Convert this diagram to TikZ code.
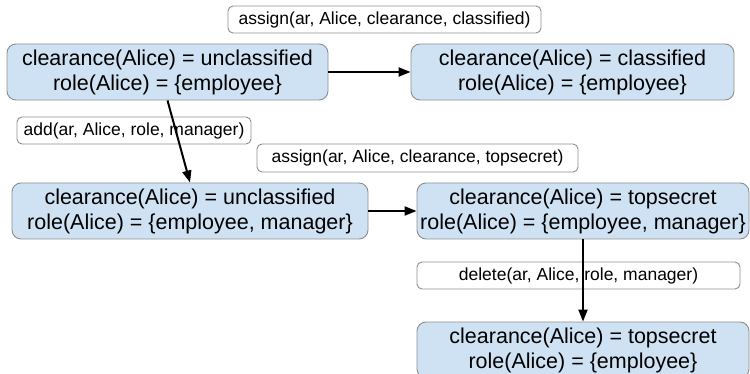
\documentclass[tikz,border=0pt]{standalone}
\usepackage{fontspec}
\setmainfont{Liberation Sans}
\usetikzlibrary{arrows.meta}
\definecolor{statefill}{HTML}{CFE2F3}
\definecolor{edgegray}{HTML}{8E8E8E}
\begin{document}
\begin{tikzpicture}[x=1pt,y=-1pt,
  statebox/.style={draw=edgegray, line width=0.9pt, fill=statefill, rounded corners=9pt,
    minimum height=56pt, inner sep=0pt, align=center,
    font=\fontsize{21.5}{25}\selectfont},
  opbox/.style={draw=edgegray, line width=0.9pt, fill=white, rounded corners=5pt,
    minimum height=27pt, inner sep=0pt, align=center,
    font=\fontsize{17.5}{20}\selectfont},
  trans/.style={line width=2pt, -{Triangle[length=12pt,width=9pt]}}]
\useasboundingbox (0,0) rectangle (750,374);
\clip (0,0) rectangle (750,374);
\fill[white] (0,0) rectangle (750,374);

% states
\node[statebox, minimum width=321pt] (A) at (167.5,72)
  {clearance(Alice) = unclassified\\role(Alice) = \{employee\}};
\node[statebox, minimum width=323pt] (B) at (572.5,72)
  {clearance(Alice) = classified\\role(Alice) = \{employee\}};
\node[statebox, minimum width=356pt] (C) at (190,211)
  {clearance(Alice) = unclassified\\role(Alice) = \{employee, manager\}};
\node[statebox, minimum width=332pt] (D) at (583,211)
  {clearance(Alice) = topsecret\\role(Alice) = \{employee, manager\}};
\node[statebox, minimum width=332pt] (E) at (583,350)
  {clearance(Alice) = topsecret\\role(Alice) = \{employee\}};

% operations
\node[opbox, minimum width=313pt] (L1) at (384.5,19.5)
  {assign(ar, Alice, clearance, classified)};
\node[opbox, minimum width=234pt] (L2) at (134,130.5)
  {add(ar, Alice, role, manager)};
\node[opbox, minimum width=321pt, minimum height=28pt] (L3) at (417.5,158)
  {assign(ar, Alice, clearance, topsecret)};
\node[opbox, minimum width=323pt] (L4) at (578.5,275.5)
  {delete(ar, Alice, role, manager)};

% transitions
\draw[trans] (A.east) -- (B.west);
\draw[trans] (A.south) -- (C.north);
\draw[trans] (C.east) -- (D.west);
\draw[trans] (D.south) -- (E.north);
\end{tikzpicture}
\end{document}
